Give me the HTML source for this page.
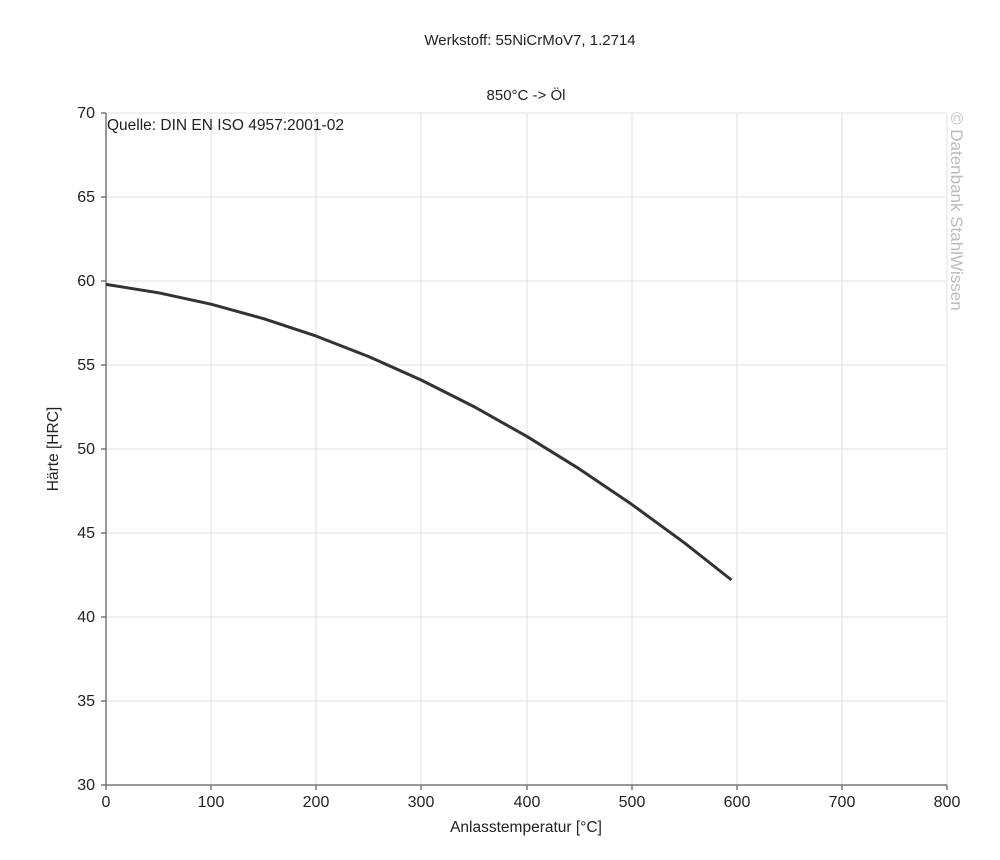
<!DOCTYPE html>
<html><head><meta charset="utf-8"><style>body{margin:0;background:#fff}svg{display:block}</style></head><body>
<svg width="1000" height="860" xmlns="http://www.w3.org/2000/svg" font-family="Liberation Sans, Arial, sans-serif" fill="#222">
<rect width="1000" height="860" fill="#fff"/>
<text x="530" y="45" font-size="15" text-anchor="middle">Werkstoff: 55NiCrMoV7, 1.2714</text>
<text x="526" y="100" font-size="15" text-anchor="middle">850°C -&gt; Öl</text>
<g stroke="#e2e2e2" stroke-width="1">
<line x1="211" y1="113" x2="211" y2="785"/><line x1="316" y1="113" x2="316" y2="785"/><line x1="421" y1="113" x2="421" y2="785"/><line x1="527" y1="113" x2="527" y2="785"/><line x1="632" y1="113" x2="632" y2="785"/><line x1="737" y1="113" x2="737" y2="785"/><line x1="842" y1="113" x2="842" y2="785"/><line x1="947" y1="113" x2="947" y2="785"/>
<line x1="106" y1="113" x2="947" y2="113"/><line x1="106" y1="197" x2="947" y2="197"/><line x1="106" y1="281" x2="947" y2="281"/><line x1="106" y1="365" x2="947" y2="365"/><line x1="106" y1="449" x2="947" y2="449"/><line x1="106" y1="533" x2="947" y2="533"/><line x1="106" y1="617" x2="947" y2="617"/><line x1="106" y1="701" x2="947" y2="701"/>
</g>
<g stroke="#777" stroke-width="1.5">
<line x1="106" y1="113" x2="106" y2="786"/><line x1="105" y1="785" x2="947" y2="785"/>
<line x1="101" y1="113" x2="106" y2="113"/><line x1="101" y1="197" x2="106" y2="197"/><line x1="101" y1="281" x2="106" y2="281"/><line x1="101" y1="365" x2="106" y2="365"/><line x1="101" y1="449" x2="106" y2="449"/><line x1="101" y1="533" x2="106" y2="533"/><line x1="101" y1="617" x2="106" y2="617"/><line x1="101" y1="701" x2="106" y2="701"/><line x1="101" y1="785" x2="106" y2="785"/>
<line x1="106" y1="785" x2="106" y2="790"/><line x1="211" y1="785" x2="211" y2="790"/><line x1="316" y1="785" x2="316" y2="790"/><line x1="421" y1="785" x2="421" y2="790"/><line x1="527" y1="785" x2="527" y2="790"/><line x1="632" y1="785" x2="632" y2="790"/><line x1="737" y1="785" x2="737" y2="790"/><line x1="842" y1="785" x2="842" y2="790"/><line x1="947" y1="785" x2="947" y2="790"/>
</g>
<g font-size="16" text-anchor="end">
<text x="95" y="118">70</text><text x="95" y="202">65</text><text x="95" y="286">60</text><text x="95" y="370">55</text><text x="95" y="454">50</text><text x="95" y="538">45</text><text x="95" y="622">40</text><text x="95" y="706">35</text><text x="95" y="790">30</text>
</g>
<g font-size="16" text-anchor="middle">
<text x="106" y="807">0</text><text x="211" y="807">100</text><text x="316" y="807">200</text><text x="421" y="807">300</text><text x="527" y="807">400</text><text x="632" y="807">500</text><text x="737" y="807">600</text><text x="842" y="807">700</text><text x="947" y="807">800</text>
</g>
<text x="526" y="832" font-size="15.5" text-anchor="middle">Anlasstemperatur [°C]</text>
<text transform="translate(58,449) rotate(-90)" font-size="15.5" text-anchor="middle">Härte [HRC]</text>
<text x="107" y="130" font-size="15.5">Quelle: DIN EN ISO 4957:2001-02</text>
<text transform="translate(951,112) rotate(90)" font-size="17" fill="#bbb">© Datenbank StahlWissen</text>
<polyline points="106,284.4 158.6,292.8 211.1,304.2 263.7,318.7 316.2,336.1 368.8,356.6 421.4,380.1 473.9,406.6 526.5,436.2 579,468.7 631.6,504.3 684.2,542.7 731.5,580" fill="none" stroke="#333" stroke-width="3" stroke-linejoin="round"/>
</svg>
</body></html>
